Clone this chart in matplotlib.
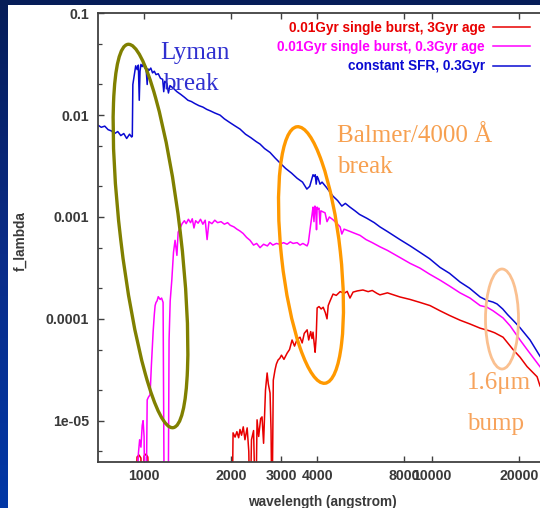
import numpy as np
import matplotlib
matplotlib.use("Agg")
import matplotlib.pyplot as plt
from matplotlib.patches import Ellipse, Rectangle
from matplotlib.colors import LinearSegmentedColormap
from matplotlib.ticker import FixedLocator, FixedFormatter, NullLocator, LogLocator, NullFormatter

plt.rcParams['font.family'] = ['Liberation Sans', 'DejaVu Sans']

# ---------------- data ----------------
series_labels = ["0.01Gyr single burst, 3Gyr age",
                 "0.01Gyr single burst, 0.3Gyr age",
                 "constant SFR, 0.3Gyr"]

# constant SFR, 0.3 Gyr (blue)
lam_sfr = [690, 710, 730, 750, 770, 790, 810, 830, 850, 870, 890, 905, 910, 914, 925, 935, 946, 955,
           962, 968, 975, 985, 995, 1005, 1015, 1025, 1030, 1040, 1055, 1070, 1085, 1100, 1120, 1140,
           1160, 1170, 1180, 1200, 1215, 1230, 1260, 1300, 1340, 1380, 1420, 1460, 1500, 1550, 1600,
           1650, 1700, 1760, 1836, 1900, 1980, 2060, 2153, 2250, 2350, 2450, 2527, 2620, 2738, 2850,
           2963, 3100, 3250, 3400, 3550, 3675, 3760, 3830, 3861, 3900, 3930, 3960, 3990, 4020, 4083,
           4150, 4300, 4531, 4700, 4861, 5000, 5188, 5400, 5600, 5943, 6300, 6592, 7000, 7737, 8400,
           9079, 9800, 10660, 11500, 12510, 13500, 14690, 15500, 16290, 16820, 17600, 18300, 19110,
           20200, 21900, 23710, 26000, 30000]
f_sfr = [0.0080, 0.0076, 0.0078, 0.0072, 0.0070, 0.0066, 0.0069, 0.0063, 0.0066, 0.0059, 0.0065,
         0.0061, 0.0062, 0.0200, 0.0250, 0.0305, 0.0280, 0.0310, 0.0140, 0.0270, 0.0315, 0.0300,
         0.0320, 0.0290, 0.0300, 0.0200, 0.0285, 0.0275, 0.0290, 0.0260, 0.0270, 0.0250, 0.0255,
         0.0230, 0.0225, 0.0170, 0.0215, 0.0205, 0.0165, 0.0195, 0.0185, 0.0170, 0.0160, 0.0150,
         0.0140, 0.0136, 0.0130, 0.0124, 0.0120, 0.0114, 0.0110, 0.0105, 0.0100, 0.0092, 0.0085,
         0.0079, 0.0073, 0.0065, 0.0060, 0.0055, 0.0052, 0.0047, 0.0043, 0.0038, 0.0034, 0.0030,
         0.0027, 0.0024, 0.0022, 0.00188, 0.0020, 0.0024, 0.0026, 0.0025, 0.0026, 0.0021, 0.0025,
         0.0024, 0.0021, 0.0022, 0.00195, 0.00160, 0.00145, 0.00128, 0.00136, 0.00125, 0.00115,
         0.00106, 0.00097, 0.00088, 0.00080, 0.00072, 0.00060, 0.00052, 0.00045, 0.00039, 0.00032,
         0.00028, 0.00023, 0.00020, 0.000164, 0.000152, 0.000146, 0.000140, 0.000125, 0.000110,
         0.000097, 0.000082, 0.000062, 0.000043, 0.000030, 0.000018]

# single burst, 0.3 Gyr age (magenta)
lam_b03 = [900, 940, 955, 965, 975, 985, 992, 1000, 1006, 1015, 1025, 1035, 1049, 1060, 1075, 1085,
           1092, 1100, 1109, 1120, 1137, 1150, 1164, 1175, 1185, 1200, 1212, 1221, 1232, 1248, 1265,
           1281, 1300, 1313, 1335, 1355, 1380, 1400, 1425, 1450, 1470, 1490, 1510, 1540, 1570, 1600,
           1630, 1655, 1680, 1720, 1760, 1800, 1850, 1900, 1950, 1990, 2050, 2100, 2150, 2207, 2270,
           2333, 2400, 2460, 2527, 2600, 2680, 2738, 2800, 2880, 2963, 3050, 3138, 3220, 3291, 3400,
           3480, 3560, 3683, 3720, 3769, 3830, 3861, 3890, 3920, 3950, 3970, 3990, 4018, 4050, 4083,
           4110, 4188, 4250, 4318, 4400, 4530, 4700, 4795, 4861, 4950, 5200, 5400, 5623, 5900, 6200,
           6592, 7000, 7737, 8400, 9079, 9800, 10660, 11500, 12510, 13550, 14690, 15530, 16290, 17650,
           18700, 20220, 21500, 23170, 26000, 30000]
f_b03 = [1e-6, 1e-6, 4.7e-6, 6.5e-6, 5.5e-6, 9.0e-6, 1.0e-5, 7e-6, 1e-6, 1e-6, 1.6e-5, 1.7e-5, 1.8e-5,
         3.5e-5, 7.5e-5, 1.1e-4, 1.35e-4, 1.45e-4, 1.5e-4, 1.65e-4, 1.55e-4, 1.6e-4, 1.45e-4, 1e-6,
         1e-6, 1e-6, 1e-6, 6.2e-5, 1.5e-4, 2.4e-4, 4.5e-4, 5.9e-4, 4.2e-4, 7.1e-4, 7.8e-4, 8.6e-4,
         9.2e-4, 8.6e-4, 9.5e-4, 8.8e-4, 9.6e-4, 7.8e-4, 9.2e-4, 8.7e-4, 9.5e-4, 8.5e-4, 9.3e-4,
         6.0e-4, 9.0e-4, 8.6e-4, 9.3e-4, 8.8e-4, 9.0e-4, 8.5e-4, 8.8e-4, 8.3e-4, 8.0e-4, 7.6e-4,
         7.3e-4, 6.9e-4, 6.3e-4, 5.9e-4, 5.3e-4, 5.5e-4, 5.0e-4, 5.4e-4, 5.2e-4, 5.6e-4, 5.3e-4,
         5.5e-4, 5.4e-4, 5.6e-4, 5.4e-4, 5.7e-4, 5.5e-4, 5.6e-4, 5.3e-4, 5.5e-4, 5.2e-4, 5.6e-4,
         7.5e-4, 1.05e-3, 1.25e-3, 9.0e-4, 1.28e-3, 1.2e-3, 7.5e-4, 1.25e-3, 1.2e-3, 1.22e-3, 8.5e-4,
         1.15e-3, 1.12e-3, 1.1e-3, 9.0e-4, 1.0e-3, 9.4e-4, 8.5e-4, 8.0e-4, 6.8e-4, 7.6e-4, 7.2e-4,
         6.9e-4, 6.6e-4, 6.0e-4, 5.6e-4, 5.1e-4, 4.7e-4, 4.0e-4, 3.5e-4, 3.15e-4, 2.75e-4, 2.4e-4,
         2.1e-4, 1.8e-4, 1.6e-4, 1.35e-4, 1.3e-4, 1.2e-4, 1.02e-4, 8.5e-5, 6.2e-5, 4.9e-5, 3.7e-5,
         2.4e-5, 1.3e-5]

# single burst, 3 Gyr age (red)
lam_b3 = [900, 930, 945, 960, 975, 985, 1000, 1015, 1030, 1050, 1065, 2020, 2037, 2070, 2100, 2130,
          2153, 2180, 2210, 2240, 2280, 2310, 2333, 2360, 2400, 2440, 2468, 2500, 2540, 2568, 2600,
          2640, 2675, 2700, 2738, 2760, 2781, 2810, 2849, 2880, 2919, 2960, 3000, 3060, 3138, 3200,
          3265, 3330, 3400, 3480, 3540, 3600, 3683, 3730, 3790, 3830, 3861, 3900, 3926, 3960, 3990,
          4050, 4120, 4188, 4260, 4318, 4360, 4425, 4531, 4650, 4795, 4950, 5074, 5188, 5318, 5500,
          5754, 6000, 6200, 6436, 6592, 7000, 7737, 8392, 9079, 9840, 10660, 11500, 12510, 13550,
          14690, 15890, 16500, 17650, 19110, 20220, 21380, 23170, 23710, 26000, 30000]
f_b3 = [1e-6, 1e-6, 4.4e-6, 4.6e-6, 4.3e-6, 1e-6, 4.5e-6, 4.7e-6, 4.4e-6, 1e-6, 1e-6, 1e-6, 7.6e-6,
        6.9e-6, 7.8e-6, 6.8e-6, 8.2e-6, 7.2e-6, 8.7e-6, 6.5e-6, 8.5e-6, 5e-6, 1e-6, 6.5e-6, 8e-6,
        1e-6, 1.02e-5, 7e-6, 1.05e-5, 1.09e-5, 6e-6, 2.0e-5, 2.94e-5, 2.3e-5, 1.87e-5, 8e-6, 1e-6,
        2.5e-5, 3.15e-5, 3.6e-5, 3.94e-5, 4.1e-5, 4.4e-5, 4.0e-5, 4.6e-5, 5.0e-5, 6.2e-5, 5.4e-5,
        6.3e-5, 6.6e-5, 5.8e-5, 7.2e-5, 7.8e-5, 6.2e-5, 7.5e-5, 6.4e-5, 7.4e-5, 5.6e-5, 4.7e-5,
        6.6e-5, 1.28e-4, 1.32e-4, 1.25e-4, 1.3e-4, 1.15e-4, 1.0e-4, 1.35e-4, 1.5e-4, 1.75e-4, 1.7e-4,
        1.85e-4, 1.78e-4, 1.86e-4, 1.6e-4, 1.83e-4, 1.88e-4, 1.92e-4, 1.85e-4, 1.9e-4, 1.78e-4,
        1.72e-4, 1.8e-4, 1.64e-4, 1.55e-4, 1.45e-4, 1.35e-4, 1.2e-4, 1.08e-4, 9.7e-5, 8.9e-5, 8.1e-5,
        7.6e-5, 7.3e-5, 6.6e-5, 5.0e-5, 4.2e-5, 3.4e-5, 2.7e-5, 2.2e-5, 1.4e-5, 7e-6]

x_ticks = [1000, 2000, 3000, 4000, 8000, 10000, 20000]
x_ticklabels = ["1000", "2000", "3000", "4000", "8000", "10000", "20000"]
y_ticks = [1e-5, 1e-4, 1e-3, 1e-2, 1e-1]
y_ticklabels = ["1e-05", "0.0001", "0.001", "0.01", "0.1"]

# ---------------- figure ----------------
W, H = 540, 508
fig = plt.figure(figsize=(W / 100, H / 100), dpi=100)

# slide background
bg = fig.add_axes([0, 0, 1, 1], zorder=-5)
bg.set_xlim(0, W); bg.set_ylim(H, 0); bg.axis('off')
cmap = LinearSegmentedColormap.from_list('slide', ['#061d58', '#0a2c88', '#0238a6'])
bg.imshow(np.linspace(0, 1, 256).reshape(-1, 1), extent=[0, W, H, 0], cmap=cmap, aspect='auto')
bg.add_patch(Rectangle((8, 5), W - 8, H - 5, facecolor='white', edgecolor='none'))

# main plot (right border runs off the slide)
x0, x1, ytop, ybot = 97.7, 569.4, 13.3, 462.0
ax = fig.add_axes([x0 / W, (H - ybot) / H, (x1 - x0) / W, (ybot - ytop) / H], zorder=1)
ax.set_xscale('log'); ax.set_yscale('log')

l_b3, = ax.plot(lam_b3, f_b3, color='#e80000', lw=1.1, label=series_labels[0])
l_b03, = ax.plot(lam_b03, f_b03, color='#ff00ff', lw=1.1, label=series_labels[1])
l_sfr, = ax.plot(lam_sfr, f_sfr, color='#0a0ad2', lw=1.1, label=series_labels[2])

ax.set_xlim(690, 30000)
ax.set_ylim(3.93e-6, 0.1)

ax.xaxis.set_major_locator(FixedLocator(x_ticks))
ax.xaxis.set_major_formatter(FixedFormatter(x_ticklabels))
ax.xaxis.set_minor_locator(NullLocator())
ax.yaxis.set_major_locator(FixedLocator(y_ticks))
ax.yaxis.set_major_formatter(FixedFormatter(y_ticklabels))
ax.yaxis.set_minor_locator(LogLocator(base=10, subs=(2.0, 5.0)))
ax.yaxis.set_minor_formatter(NullFormatter())

for s in ax.spines.values():
    s.set_color('#404040'); s.set_linewidth(1.3)
ax.tick_params(which='both', direction='in', top=True, right=True, color='#404040')
ax.tick_params(which='major', length=4.5, width=1.0, labelsize=10.2, labelcolor='#3a3a3a')
ax.tick_params(axis='y', which='major', pad=6)
ax.tick_params(axis='x', which='major', pad=5)
ax.tick_params(which='minor', length=3, width=0.9)
for lbl in ax.get_xticklabels() + ax.get_yticklabels():
    lbl.set_fontweight('bold')

ax.set_xlabel('wavelength (angstrom)', fontsize=9.8, color='#3a3a3a', fontweight='bold')
ax.xaxis.set_label_coords((322 - x0) / (x1 - x0), -(502 - ybot) / (ybot - ytop))
ax.xaxis.label.set_va('center')
ax.set_ylabel('f_lambda', fontsize=9.8, color='#3a3a3a', fontweight='bold')
ax.yaxis.set_label_coords((20 - x0) / (x1 - x0), (ybot - 241) / (ybot - ytop))
ax.yaxis.label.set_va('center')

leg = ax.legend(handles=[l_b3, l_b03, l_sfr], loc='upper right',
                bbox_to_anchor=(530 / W, 1 - 21 / H), bbox_transform=fig.transFigure,
                frameon=False, markerfirst=False, labelcolor='linecolor',
                prop={'size': 9.8, 'weight': 'bold'},
                handlelength=2.7, handletextpad=0.6, labelspacing=0.38, borderpad=0, borderaxespad=0)

# slide annotations
ov = fig.add_axes([0, 0, 1, 1], zorder=5)
ov.set_xlim(0, W); ov.set_ylim(H, 0); ov.axis('off')
ov.patch.set_alpha(0)
ov.add_patch(Ellipse((150.5, 236), 60, 386, angle=-6.7, fill=False, ec='#808000', lw=2.4))
ov.add_patch(Ellipse((311, 255), 59, 258, angle=-6.2, fill=False, ec='#ff9900', lw=2.4))
ov.add_patch(Ellipse((502, 319), 33, 100, angle=0, fill=False, ec='#fac090', lw=2.0))

serif = ['Liberation Serif', 'DejaVu Serif']
ov.text(160, 59, 'Lyman', color='#3030d0', fontsize=18, family=serif, va='baseline')
ov.text(163, 90, 'break', color='#3030d0', fontsize=18, family=serif, va='baseline')
ov.text(337, 142, 'Balmer/4000 Å', color='#f7a050', fontsize=18, family=serif, va='baseline')
ov.text(337, 173, 'break', color='#f7a050', fontsize=18, family=serif, va='baseline')
ov.text(467, 389, '1.6μm', color='#f7a35c', fontsize=18, family=serif, va='baseline')
ov.text(467, 430, 'bump', color='#f7a35c', fontsize=18, family=serif, va='baseline')

fig.savefig('out.png', dpi=100)
